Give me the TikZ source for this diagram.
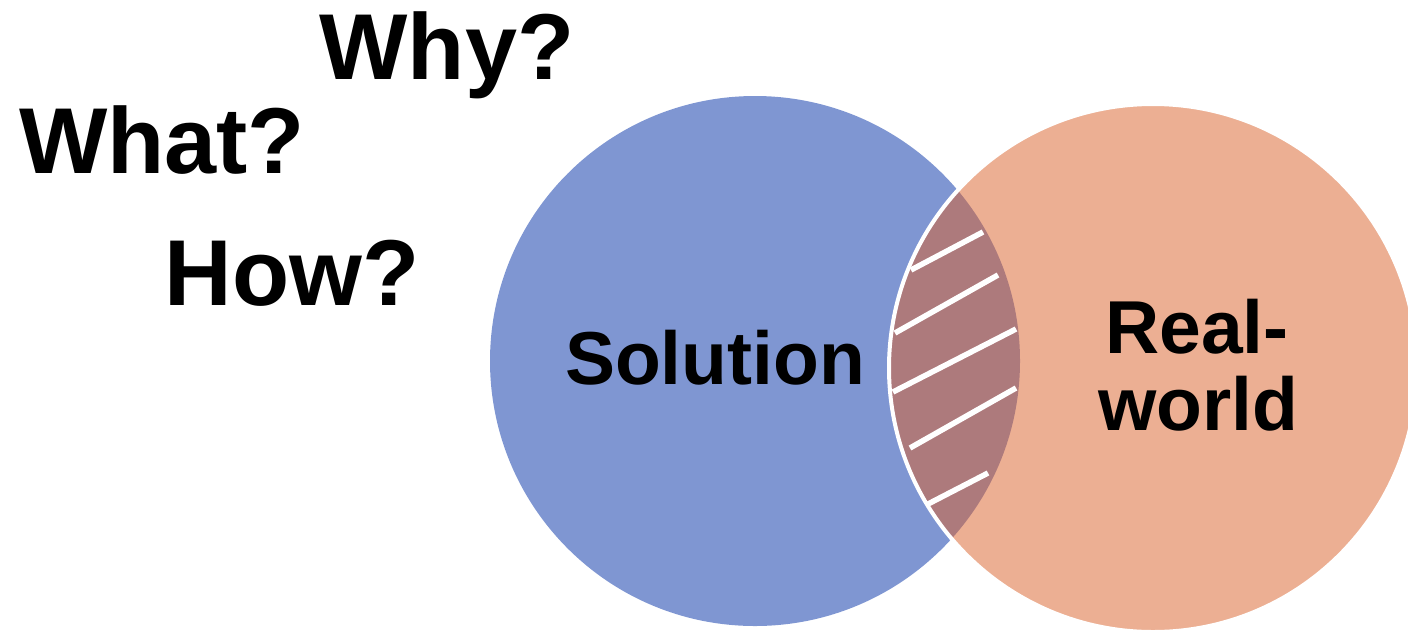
\documentclass[tikz,border=0pt]{standalone}
\usepackage{fontspec}
\setmainfont{Liberation Sans}
\definecolor{solblue}{RGB}{127,150,210}
\definecolor{realorange}{RGB}{236,175,147}
\definecolor{overlapc}{RGB}{173,122,124}
\begin{document}
\begin{tikzpicture}[x=1pt,y=-1pt,
  bigq/.style={font=\fontsize{93.6}{100}\selectfont\bfseries, inner sep=0pt, anchor=base},
  lbl/.style={font=\fontsize{75}{77}\selectfont\bfseries, inner sep=0pt, anchor=base},
  hatchline/.style={white, line width=5.5pt}]
\useasboundingbox (0,0) rectangle (1408,633);
\clip (0,0) rectangle (1408,633);
\coordinate (cb) at (755,361);
\coordinate (co) at (1153,368);
\fill[solblue] (cb) circle[radius=265pt];
\fill[realorange] (co) circle[radius=264pt];
\begin{scope}
  \clip (cb) circle[radius=265pt];
  \fill[overlapc] (co) circle[radius=264pt];
\end{scope}
\draw[white, line width=4pt] (co) circle[radius=264pt];
\coordinate (h1a) at (911,270); \coordinate (h1b) at (983,232);
\coordinate (h2a) at (895,333); \coordinate (h2b) at (998,275);
\coordinate (h3a) at (893,392); \coordinate (h3b) at (1016,329);
\coordinate (h4a) at (910,448); \coordinate (h4b) at (1016,388);
\coordinate (h5a) at (928,504); \coordinate (h5b) at (988,473);
\draw[hatchline] (h1a) -- (h1b);
\draw[hatchline] (h2a) -- (h2b);
\draw[hatchline] (h3a) -- (h3b);
\draw[hatchline] (h4a) -- (h4b);
\draw[hatchline] (h5a) -- (h5b);
\node[bigq] (why) at (447,79) {Why?};
\node[bigq] (what) at (162,173) {What?};
\node[bigq] (how) at (292,305) {How?};
\node[lbl] (sol) at (715,384) {Solution};
\node[lbl] (real) at (1197,353) {Real-};
\node[lbl] (world) at (1198,430) {world};
\end{tikzpicture}
\end{document}
